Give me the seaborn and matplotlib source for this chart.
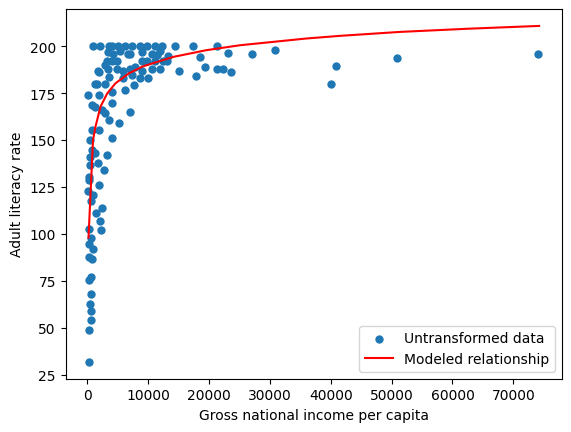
import matplotlib
matplotlib.use("Agg")
import matplotlib.pyplot as plt
import pandas as pd
import seaborn as sns

# scatter data
gni = [
    934, 2131, 3655, 4049, 5130, 6228, 7327, 8687, 9785, 11146, 12244, 14424, 17424, 21259,
    3492, 4311, 5409, 6770, 8966, 10605, 11965, 13326, 23160, 26995, 30815, 18522, 50861, 74088, 7048, 11424,
    3229, 4049, 4868, 8966, 9785, 11146, 12506, 13063,
    1852, 3000, 3492, 4868, 5950, 7048, 7868, 8966, 10605, 11965, 15129, 17817, 19341, 21259, 22340, 23602, 40812,
    1918, 3557, 5950, 7376, 8736, 10047,
    1311, 1639, 2950, 7655, 39993,
    164, 1918, 4049, 6278, 820, 1360, 2458, 4098, 7097, 3000, 3557, 5196, 820, 1918, 541, 4098,
    820, 3279, 1262, 442, 1803, 2787, 328, 1918, 164, 984, 606, 2458, 1525, 2082, 328, 2344,
    704, 377, 1033, 377, 869, 655, 377, 655, 492, 655, 655, 377, 377, 214, 492,
]
literacy = [
    200, 200, 200, 200, 200, 200, 200, 200, 200, 200, 200, 200, 200, 200,
    197, 196, 197.5, 196, 197, 196, 197.5, 195, 196.6, 195.6, 197.9, 194.3, 193.5, 195.6, 196, 195.5,
    192, 192, 192, 192, 192, 192, 192, 192,
    187, 190, 188, 188, 187, 188, 189, 187, 188, 188.1, 186.7, 184, 188.7, 187.6, 187.6, 186.3, 189.7,
    186.3, 183.7, 183, 184.6, 182.8, 183,
    180, 179.8, 180, 179.3, 179.6,
    173.9, 173.9, 175.7, 176.6, 168.6, 167.7, 166, 169.5, 165.1, 164.2, 160.6, 158.9, 155.3, 155.3, 150, 150.9,
    144.7, 142, 142.9, 136.7, 137.6, 134, 128.7, 126.1, 123, 120.7, 117.7, 113.7, 111, 107.1, 102.7, 102.1,
    97.7, 94.7, 91.9, 87.6, 86.5, 77.3, 75.2, 67.9, 62.8, 59, 53.9, 48.9, 31.8, 130.5, 141,
]

# modeled curve
model_gni = [214, 956, 1359, 2176, 3280, 4635, 6834, 9111, 14144, 19619, 25074,
             30539, 36015, 41470, 51306, 62515, 74234]
model_literacy = [98.0, 150.0, 157.1, 167.7, 174.8, 180.2, 185.5, 189.2, 194.3, 197.9, 200.5,
                  202.3, 204.1, 205.5, 207.6, 209.3, 210.8]

data = pd.DataFrame({"gni": gni, "literacy": literacy})
model = pd.DataFrame({"gni": model_gni, "literacy": model_literacy})

fig, ax = plt.subplots(figsize=(6.4, 4.8), dpi=100)
sns.scatterplot(data=data, x="gni", y="literacy", color="#1f77b4", s=36,
                linewidth=0, alpha=1, label="Untransformed data", ax=ax)
sns.lineplot(data=model, x="gni", y="literacy", color="red", estimator=None,
             sort=False, label="Modeled relationship", ax=ax)

ax.set_xlabel("Gross national income per capita")
ax.set_ylabel("Adult literacy rate")
ax.legend(loc="lower right")

fig.savefig("out.png", dpi=100, bbox_inches="tight")
